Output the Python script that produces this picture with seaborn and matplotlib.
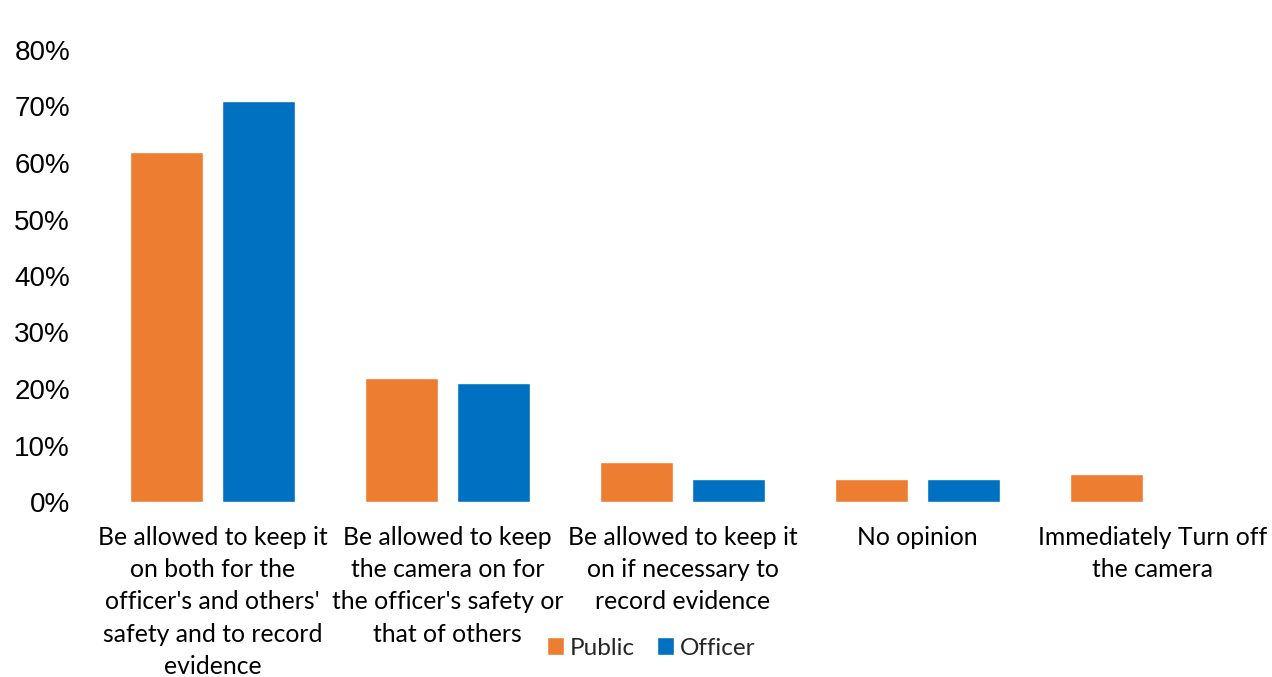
import matplotlib
matplotlib.use("Agg")
import matplotlib.pyplot as plt
import seaborn as sns
import pandas as pd
from matplotlib.ticker import FuncFormatter

categories = [
    "Be allowed to keep it\non both for the\nofficer's and others'\nsafety and to record\nevidence",
    "Be allowed to keep\nthe camera on for\nthe officer's safety or\nthat of others",
    "Be allowed to keep it\non if necessary to\nrecord evidence",
    "No opinion",
    "Immediately Turn off\nthe camera",
]
public = [62, 22, 7, 4, 5]
officer = [71, 21, 4, 4, 0]
series_names = ["Public", "Officer"]
colors = ["#ED7D31", "#0070C0"]
y_ticks = [0, 10, 20, 30, 40, 50, 60, 70, 80]

df = pd.DataFrame({
    "category": categories * 2,
    "group": [series_names[0]] * len(categories) + [series_names[1]] * len(categories),
    "value": public + officer,
})

sns.set_theme(style="white")
plt.rcParams["font.family"] = ["Lato", "DejaVu Sans"]

fig = plt.figure(figsize=(12.72, 6.77), dpi=100)
ax = fig.add_axes([95 / 1272, (677 - 502) / 677, (1270 - 95) / 1272, 452 / 677])

sns.barplot(data=df, x="category", y="value", hue="group", order=categories,
            hue_order=series_names, palette=colors, width=0.78, gap=0.2,
            saturation=1, ax=ax, legend=True)

ax.set_xlim(-0.5, len(categories) - 0.5)
ax.set_ylim(0, 80)
ax.set_yticks(y_ticks)
ax.yaxis.set_major_formatter(FuncFormatter(lambda v, _: f"{v:.0f}%"))
for lab in ax.get_yticklabels():
    lab.set_fontfamily(["Liberation Sans", "DejaVu Sans"])
    lab.set_fontsize(20)
    lab.set_color("black")
ax.tick_params(axis="y", length=0, pad=18)
ax.tick_params(axis="x", length=0, pad=17)
ax.set_xticks(range(len(categories)))
ax.set_xticklabels(categories, fontsize=17.8, color="black", linespacing=1.49)
ax.set_xlabel("")
ax.set_ylabel("")
for s in ax.spines.values():
    s.set_visible(False)

leg = ax.legend(loc="center", bbox_to_anchor=(651 / 1272, (677 - 648) / 677),
                bbox_transform=fig.transFigure, ncol=2, frameon=False,
                fontsize=17.5, handlelength=0.7, handleheight=0.7,
                handletextpad=0.25, columnspacing=0.9)

fig.savefig("out.png", dpi=100)
